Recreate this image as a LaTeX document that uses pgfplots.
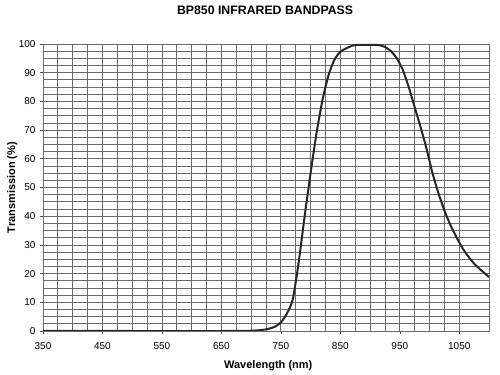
\documentclass[border=0pt]{standalone}
\usepackage{pgfplots}
\pgfplotsset{compat=1.18}
\usepackage{fontspec}
\setmainfont{Liberation Sans}
\begin{document}
\begin{tikzpicture}
\begin{axis}[
  scale only axis,
  width=446bp, height=287bp,
  xmin=350, xmax=1100, ymin=0, ymax=100,
  xtick={350,450,...,1050},
  ytick={0,10,...,100},
  minor x tick num=3,
  minor y tick num=3,
  grid=both,
  major grid style={draw=black!58, line width=0.75pt},
  minor grid style={draw=black!58, line width=0.75pt},
  axis line style={draw=black!58, line width=0.75pt},
  tick style={draw=black!70, line width=0.6pt},
  major tick length=3bp,
  minor tick length=0pt,
  tick align=outside,
  xtick pos=bottom, ytick pos=left,
  /pgf/number format/assume math mode=true,
  /pgf/number format/set thousands separator={},
  tick label style={font=\fontsize{10bp}{12bp}\selectfont, text=black},
  xticklabel style={yshift=-5bp},
  yticklabel style={xshift=-1bp},
  xlabel={\textbf{Wavelength (nm)}},
  ylabel={\textbf{Transmission (\%)}},
  label style={font=\fontsize{11bp}{13bp}\selectfont},
  xlabel style={at={(axis description cs:0.505,-0.122)}, anchor=center},
  ylabel style={at={(axis description cs:-0.069,0.5)}, anchor=center},
  title={\textbf{BP850 INFRARED BANDPASS}},
  title style={font=\fontsize{12.3bp}{14bp}\selectfont, at={(axis description cs:0.498,1.097)}, anchor=center},
  clip=true,
]
\addplot[draw=black!85, line width=2bp, smooth, tension=0.4] coordinates {
(350,0) (500,0) (650,0) (700,0.1) (720,0.4) (730,0.8) (740,1.5) (750,3)
(760,6) (770,11) (780,24) (790,40) (800,55) (810,69) (820,80.5) (830,89)
(840,94.5) (850,97.3) (860,98.5) (870,99.4) (880,99.7) (900,99.7) (915,99.6)
(925,99) (935,97.5) (945,95) (955,91) (965,85) (975,78) (985,71) (995,63.5)
(1005,55) (1015,48) (1025,42) (1035,37) (1045,32.8) (1055,29) (1065,26)
(1075,23.5) (1085,21.5) (1100,18.8)
};
\end{axis}
\pgfresetboundingbox
\path[use as bounding box] (current axis.south west) ++(-43bp,-44bp) rectangle ++(500bp,375bp);
\end{tikzpicture}
\end{document}
